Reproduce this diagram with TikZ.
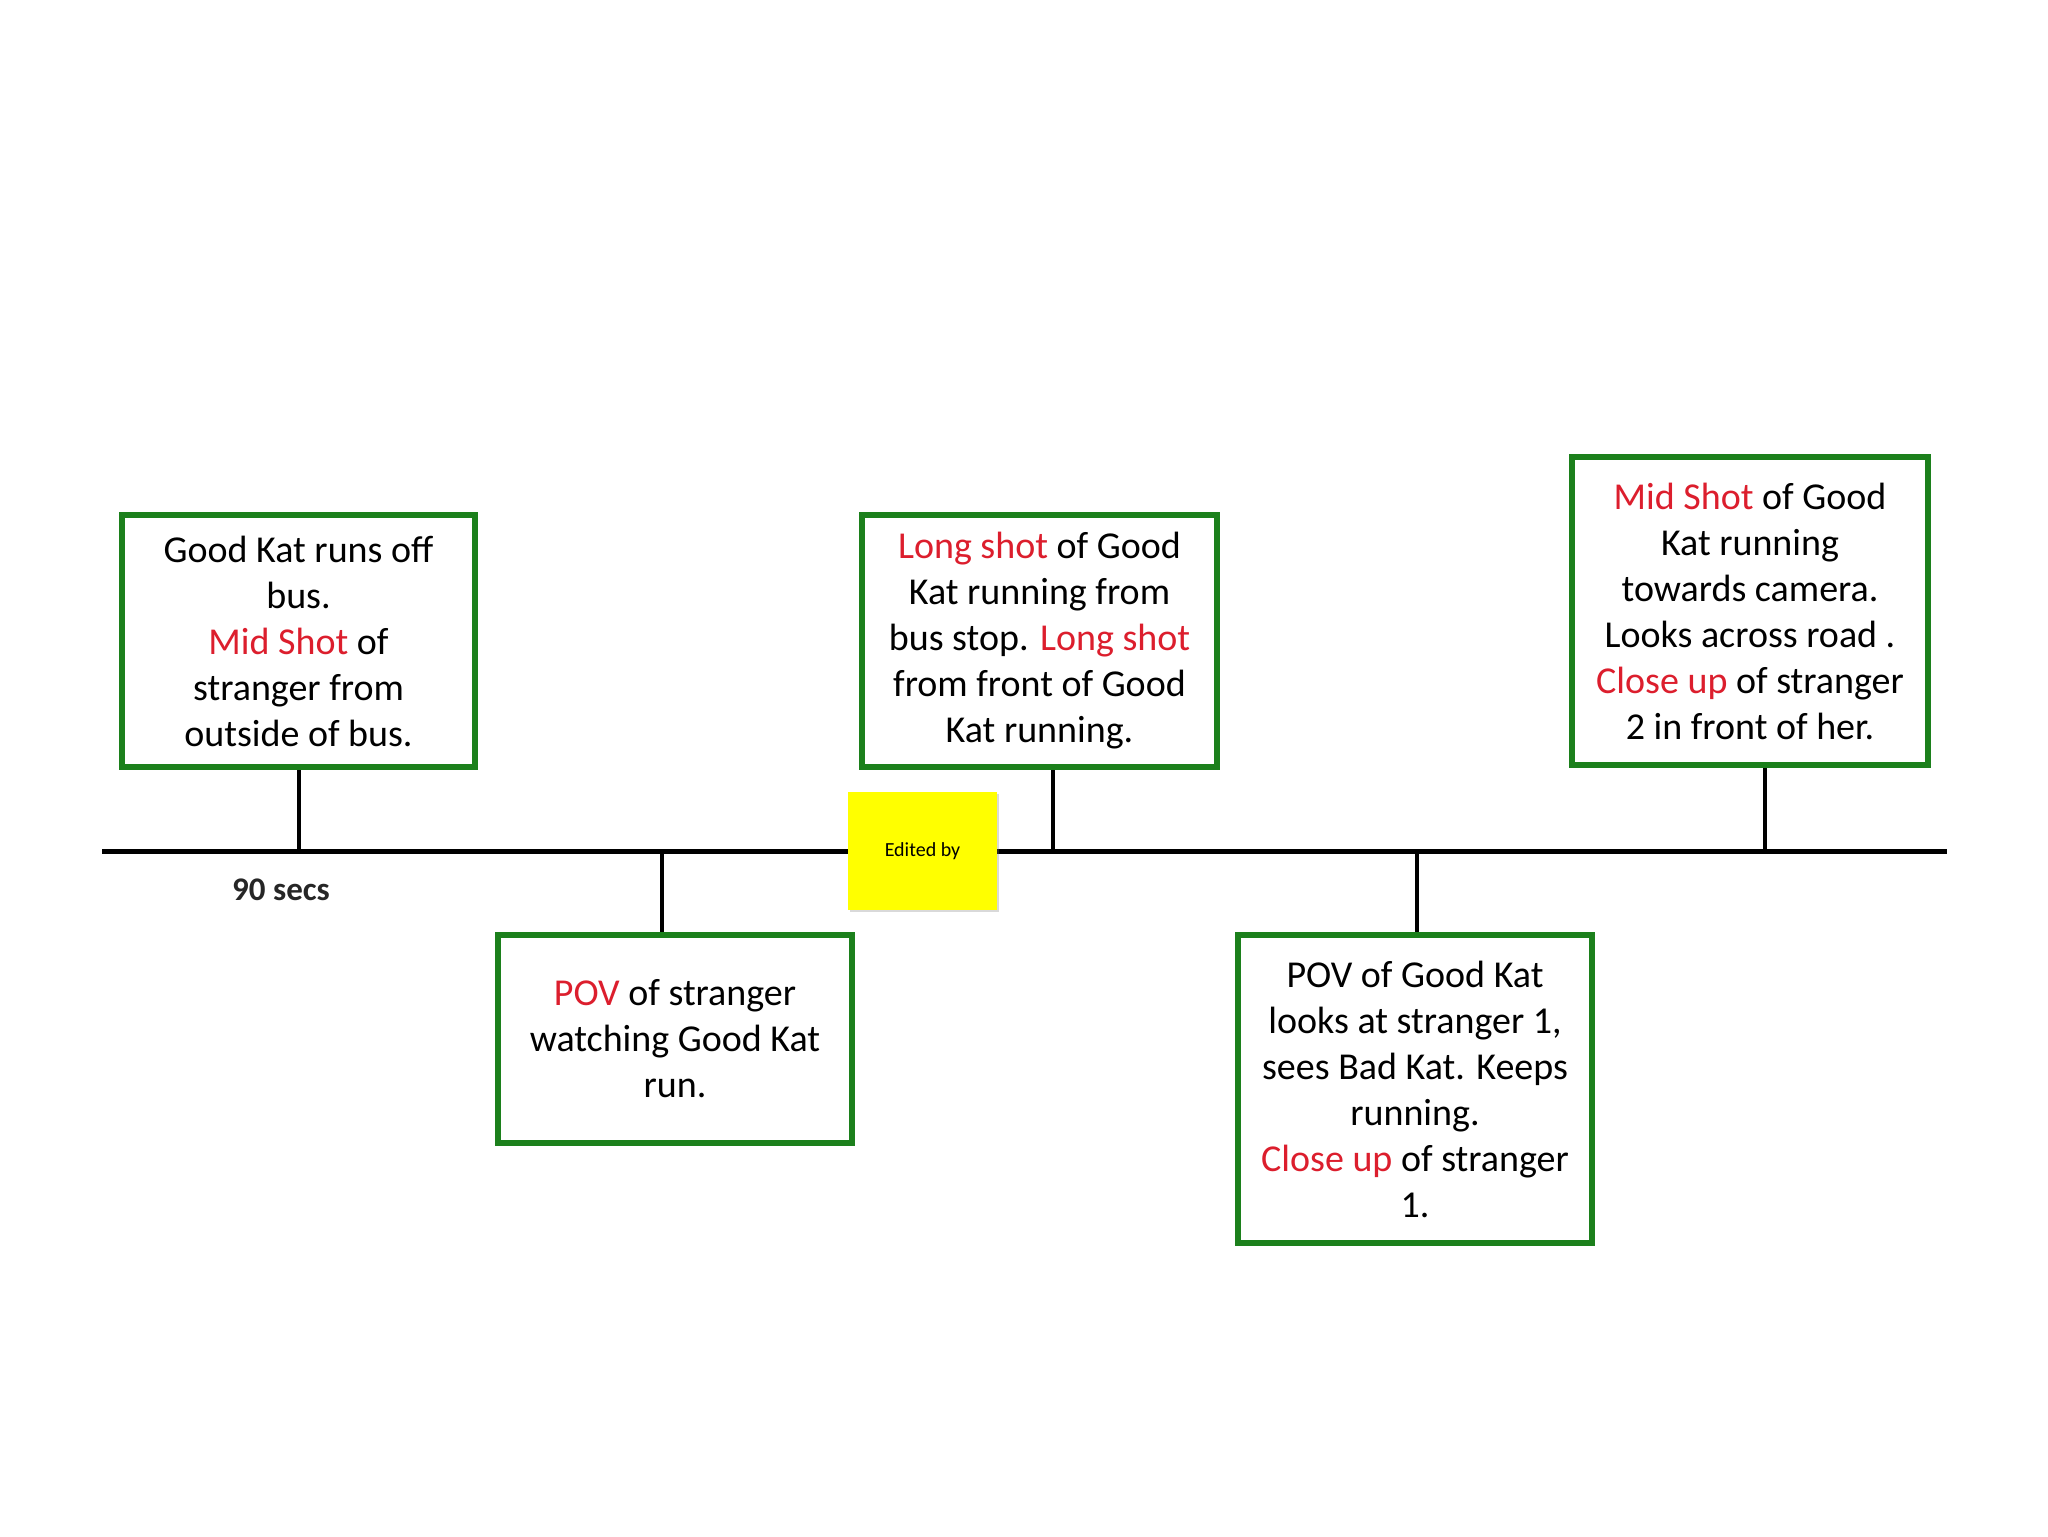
\documentclass[tikz,border=0pt]{standalone}
\usepackage{fontspec}
\setmainfont{Carlito}
\usetikzlibrary{shadows}
\definecolor{boxgreen}{RGB}{28,128,28}
\definecolor{shotred}{RGB}{220,30,45}
\definecolor{noteyellow}{RGB}{255,255,0}
\newcommand{\shot}[1]{\textcolor{shotred}{#1}}
\tikzset{
  shotbox/.style={draw=boxgreen, line width=3.2pt, fill=white, inner sep=0pt,
    align=center, font=\fontsize{19}{23}\selectfont,
    drop shadow={shadow xshift=1pt, shadow yshift=-1pt, opacity=0.2}},
  stem/.style={line width=2.2pt, black},
  timeline/.style={line width=2.5pt, black},
  note/.style={fill=noteyellow, inner sep=0pt, font=\fontsize{10}{12}\selectfont,
    drop shadow={shadow xshift=1.2pt, shadow yshift=-1.2pt, opacity=0.3}},
}
\begin{document}
\begin{tikzpicture}[x=0.5pt, y=-0.5pt]
\useasboundingbox (0,0) rectangle (2048,1536);
% timeline
\coordinate (tlA) at (102,851);
\coordinate (tlB) at (1947,851);
\draw[timeline] (tlA) -- (tlB);
% boxes
\node[shotbox, minimum width=176.5pt, minimum height=126pt] (b1) at (298.5,641)
  {Good Kat runs off\\bus.\\\shot{Mid Shot} of\\stranger from\\outside of bus.};
\node[shotbox, minimum width=177pt, minimum height=104pt] (b2) at (675,1039)
  {\shot{POV} of stranger\\watching Good Kat\\run.};
\node[shotbox, minimum width=177.5pt, minimum height=126pt] (b3) at (1039.5,641)
  {\shot{Long shot} of Good\\Kat running from\\bus stop. \shot{Long shot}\\from front of Good\\Kat running.};
\node[shotbox, minimum width=177pt, minimum height=154pt] (b4) at (1415,1089)
  {POV of Good Kat\\looks at stranger 1,\\sees Bad Kat. Keeps\\running.\\\shot{Close up} of stranger\\1.};
\node[shotbox, minimum width=178pt, minimum height=154pt] (b5) at (1750,611)
  {\shot{Mid Shot} of Good\\Kat running\\towards camera.\\Looks across road .\\\shot{Close up} of stranger\\2 in front of her.};
% stems
\coordinate (s1) at (299,851);
\coordinate (s2) at (662,851);
\coordinate (s3) at (1053,851);
\coordinate (s4) at (1417,851);
\coordinate (s5) at (1765,851);
\draw[stem] (s1 |- b1.south) -- (s1);
\draw[stem] (s2 |- b2.north) -- (s2);
\draw[stem] (s3 |- b3.south) -- (s3);
\draw[stem] (s4 |- b4.north) -- (s4);
\draw[stem] (s5 |- b5.south) -- (s5);
% label
\node[font=\bfseries\fontsize{16.5}{18}\selectfont, text=black!85] (secs) at (281,890) {90 secs};
% sticky note
\node[note, minimum width=74.5pt, minimum height=59pt] (nt) at (922.5,851) {Edited by};
\end{tikzpicture}
\end{document}
